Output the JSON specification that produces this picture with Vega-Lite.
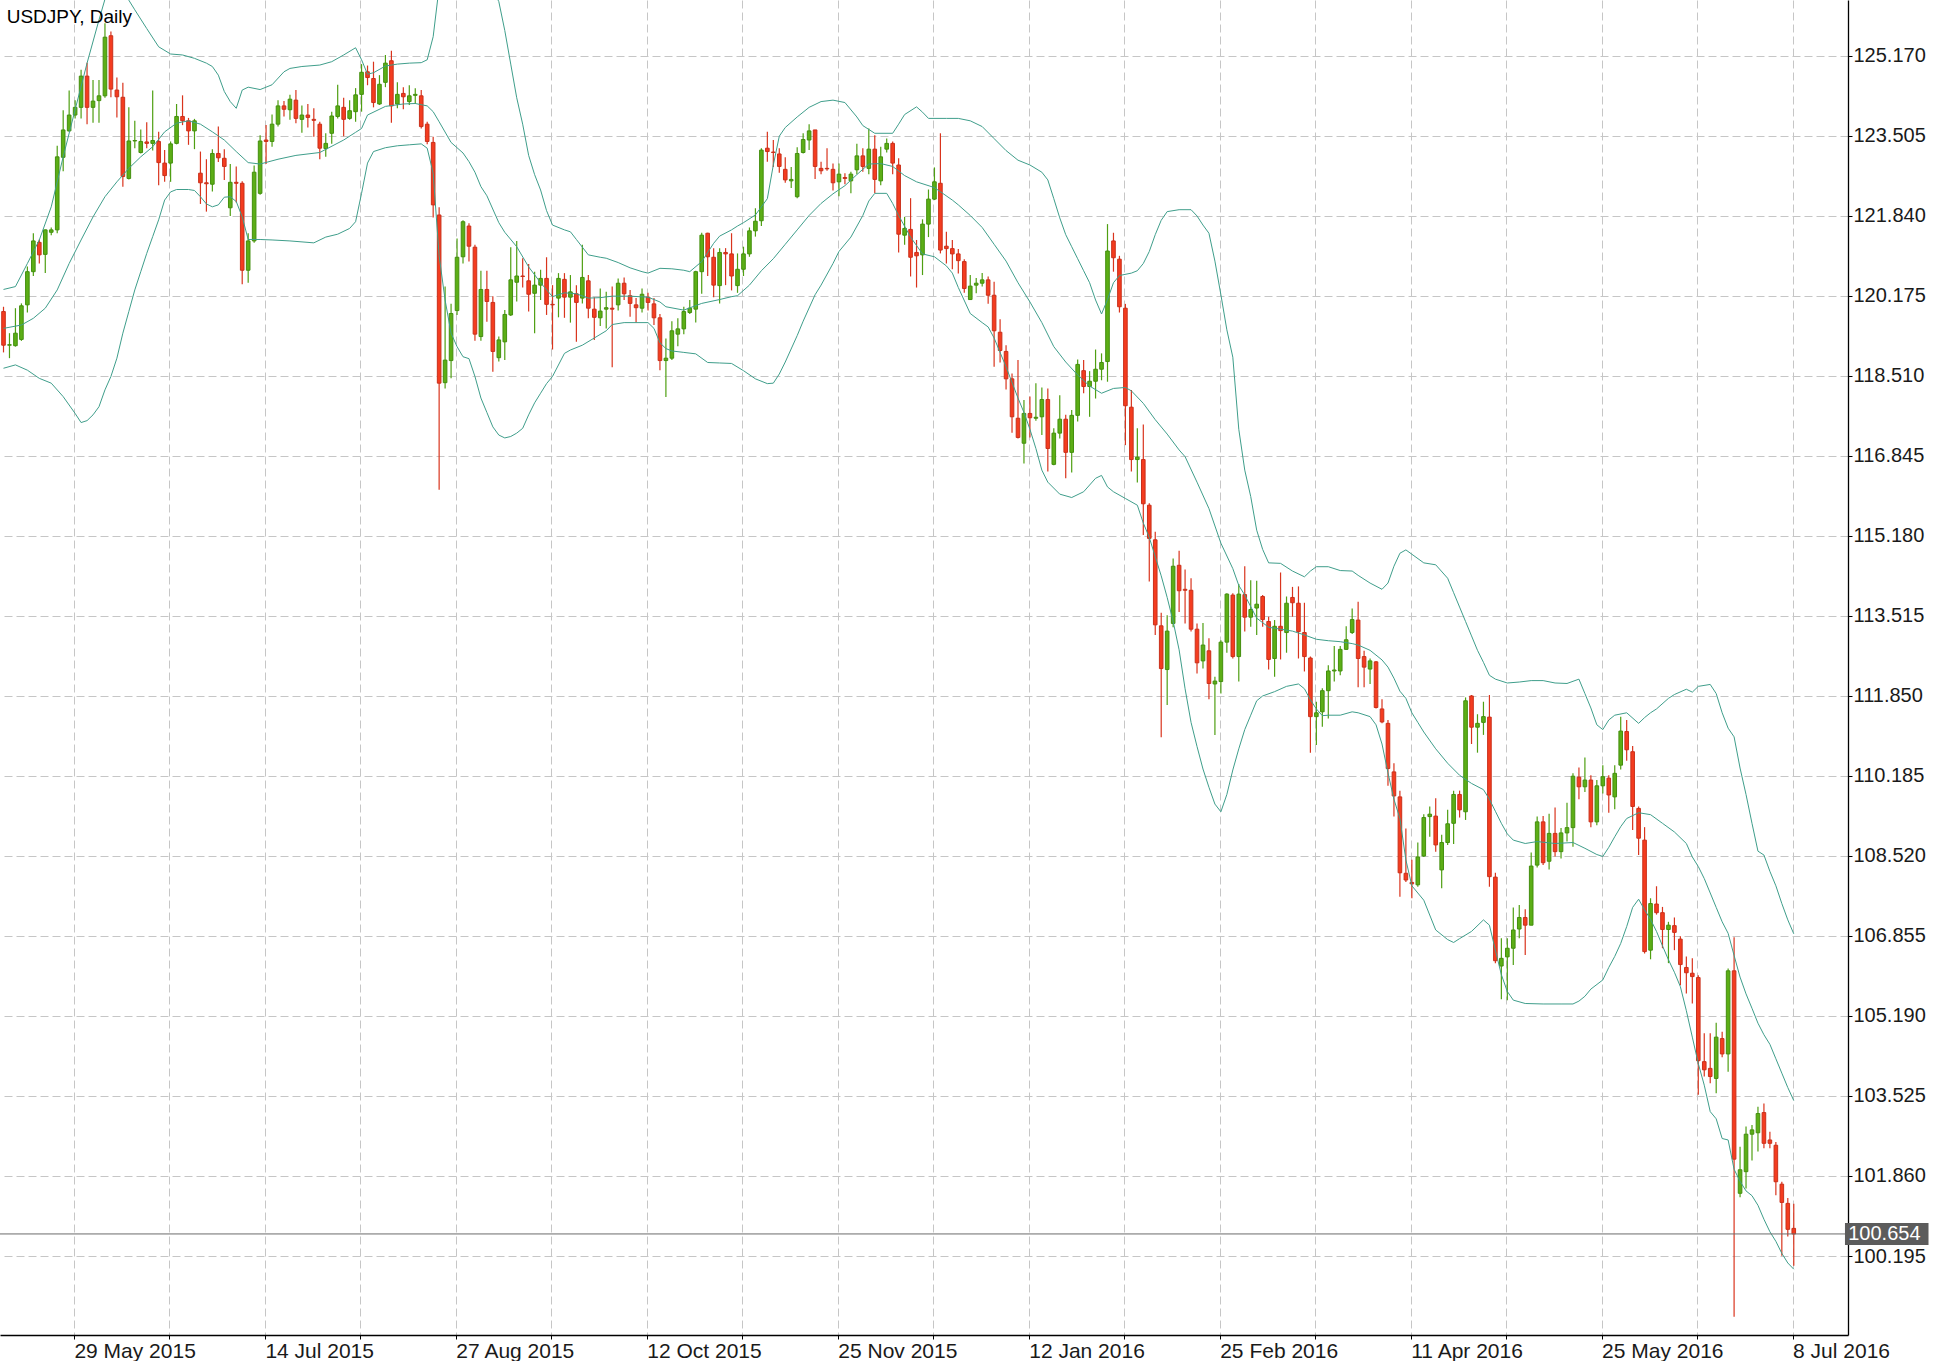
{
"$schema": "https://vega.github.io/schema/vega-lite/v6.json",
"width": 1848, "height": 1335, "padding": 0, "background": "white",
"config": {"view": {"stroke": null}, "font": "Liberation Sans"},
"datasets": {
"candles": [
{"i":0,"o":119.85,"h":119.95,"l":119.00,"c":119.15},{"i":1,"o":119.15,"h":119.40,"l":118.88,"c":119.16},{"i":2,"o":119.14,"h":119.92,"l":119.12,"c":119.40},{"i":3,"o":119.27,"h":120.02,"l":119.24,"c":119.97},{"i":4,"o":119.99,"h":120.79,"l":119.83,"c":120.68},{"i":5,"o":120.68,"h":121.48,"l":120.59,"c":121.32},{"i":6,"o":121.29,"h":121.35,"l":120.85,"c":121.03},{"i":7,"o":121.04,"h":121.56,"l":120.65,"c":121.55},{"i":8,"o":121.50,"h":121.60,"l":121.44,"c":121.55},{"i":9,"o":121.55,"h":123.30,"l":121.48,"c":123.07},
{"i":10,"o":123.06,"h":124.04,"l":122.77,"c":123.63},{"i":11,"o":123.61,"h":124.45,"l":123.59,"c":123.94},{"i":12,"o":123.94,"h":124.25,"l":123.87,"c":124.10},{"i":13,"o":124.10,"h":124.88,"l":123.87,"c":124.75},{"i":14,"o":124.75,"h":125.03,"l":123.75,"c":124.10},{"i":15,"o":124.10,"h":124.67,"l":123.78,"c":124.23},{"i":16,"o":124.24,"h":124.67,"l":123.78,"c":124.34},{"i":17,"o":124.34,"h":125.85,"l":124.30,"c":125.56},{"i":18,"o":125.59,"h":125.68,"l":124.31,"c":124.48},{"i":19,"o":124.46,"h":124.72,"l":123.89,"c":124.32},
{"i":20,"o":124.31,"h":124.61,"l":122.45,"c":122.66},{"i":21,"o":122.62,"h":124.10,"l":122.60,"c":123.40},{"i":22,"o":123.40,"h":123.82,"l":123.25,"c":123.41},{"i":23,"o":123.16,"h":123.64,"l":123.14,"c":123.39},{"i":24,"o":123.38,"h":123.79,"l":123.25,"c":123.35},{"i":25,"o":123.35,"h":124.45,"l":123.20,"c":123.41},{"i":26,"o":123.39,"h":123.59,"l":122.48,"c":122.95},{"i":27,"o":122.94,"h":123.21,"l":122.55,"c":122.68},{"i":28,"o":122.94,"h":123.39,"l":122.55,"c":123.34},{"i":29,"o":123.35,"h":124.17,"l":123.33,"c":123.91},
{"i":30,"o":123.91,"h":124.35,"l":123.73,"c":123.82},{"i":31,"o":123.82,"h":123.88,"l":123.32,"c":123.61},{"i":32,"o":123.61,"h":123.86,"l":123.23,"c":123.82},{"i":33,"o":122.73,"h":123.18,"l":122.09,"c":122.53},{"i":34,"o":122.53,"h":123.02,"l":121.93,"c":122.51},{"i":35,"o":122.50,"h":123.23,"l":122.35,"c":123.14},{"i":36,"o":123.14,"h":123.70,"l":122.96,"c":123.05},{"i":37,"o":123.04,"h":123.23,"l":122.59,"c":122.87},{"i":38,"o":122.01,"h":122.92,"l":121.84,"c":122.54},{"i":39,"o":122.54,"h":122.87,"l":122.12,"c":122.52},
{"i":40,"o":122.52,"h":122.56,"l":120.42,"c":120.71},{"i":41,"o":120.71,"h":121.48,"l":120.45,"c":121.32},{"i":42,"o":121.32,"h":122.89,"l":121.28,"c":122.75},{"i":43,"o":122.31,"h":123.52,"l":122.28,"c":123.40},{"i":44,"o":123.42,"h":123.73,"l":122.92,"c":123.39},{"i":45,"o":123.39,"h":123.95,"l":123.28,"c":123.75},{"i":46,"o":123.75,"h":124.25,"l":123.70,"c":124.13},{"i":47,"o":124.13,"h":124.23,"l":123.91,"c":124.06},{"i":48,"o":124.05,"h":124.36,"l":123.84,"c":124.27},{"i":49,"o":124.25,"h":124.46,"l":123.77,"c":123.87},
{"i":50,"o":123.85,"h":124.14,"l":123.57,"c":123.94},{"i":51,"o":123.94,"h":124.17,"l":123.68,"c":123.89},{"i":52,"o":123.85,"h":124.08,"l":123.49,"c":123.83},{"i":53,"o":123.75,"h":123.80,"l":123.02,"c":123.25},{"i":54,"o":123.24,"h":123.56,"l":123.07,"c":123.35},{"i":55,"o":123.56,"h":124.01,"l":123.34,"c":123.92},{"i":56,"o":123.91,"h":124.57,"l":123.87,"c":124.13},{"i":57,"o":124.10,"h":124.30,"l":123.50,"c":123.85},{"i":58,"o":123.87,"h":124.25,"l":123.84,"c":124.03},{"i":59,"o":124.01,"h":124.50,"l":123.80,"c":124.36},
{"i":60,"o":124.37,"h":125.00,"l":124.01,"c":124.83},{"i":61,"o":124.84,"h":124.97,"l":124.56,"c":124.72},{"i":62,"o":124.70,"h":125.05,"l":124.10,"c":124.20},{"i":63,"o":124.17,"h":124.77,"l":124.15,"c":124.58},{"i":64,"o":124.62,"h":125.19,"l":124.52,"c":125.02},{"i":65,"o":125.07,"h":125.28,"l":123.78,"c":124.13},{"i":66,"o":124.17,"h":124.62,"l":124.08,"c":124.37},{"i":67,"o":124.39,"h":124.52,"l":124.06,"c":124.32},{"i":68,"o":124.22,"h":124.56,"l":124.15,"c":124.34},{"i":69,"o":124.35,"h":124.50,"l":124.17,"c":124.37},
{"i":70,"o":124.34,"h":124.46,"l":123.66,"c":123.70},{"i":71,"o":123.75,"h":123.80,"l":123.33,"c":123.39},{"i":72,"o":123.37,"h":123.49,"l":121.81,"c":122.07},{"i":73,"o":121.86,"h":122.02,"l":116.14,"c":118.36},{"i":74,"o":118.37,"h":120.37,"l":118.25,"c":118.84},{"i":75,"o":118.83,"h":120.01,"l":118.46,"c":119.81},{"i":76,"o":119.87,"h":121.37,"l":119.78,"c":120.98},{"i":77,"o":120.99,"h":121.75,"l":120.85,"c":121.72},{"i":78,"o":121.63,"h":121.69,"l":120.89,"c":121.21},{"i":79,"o":121.19,"h":121.24,"l":119.24,"c":119.38},
{"i":80,"o":119.33,"h":120.70,"l":119.24,"c":120.31},{"i":81,"o":120.31,"h":120.70,"l":119.64,"c":120.06},{"i":82,"o":120.04,"h":120.17,"l":118.60,"c":119.02},{"i":83,"o":118.89,"h":119.33,"l":118.81,"c":119.26},{"i":84,"o":119.22,"h":119.88,"l":118.84,"c":119.79},{"i":85,"o":119.78,"h":121.19,"l":119.76,"c":120.51},{"i":86,"o":120.46,"h":121.32,"l":120.06,"c":120.59},{"i":87,"o":120.59,"h":120.96,"l":120.35,"c":120.58},{"i":88,"o":120.49,"h":120.84,"l":119.85,"c":120.21},{"i":89,"o":120.23,"h":120.68,"l":119.40,"c":120.40},
{"i":90,"o":120.40,"h":120.72,"l":120.09,"c":120.54},{"i":91,"o":120.54,"h":120.98,"l":119.78,"c":120.00},{"i":92,"o":120.00,"h":120.40,"l":119.06,"c":119.99},{"i":93,"o":120.13,"h":120.65,"l":119.73,"c":120.54},{"i":94,"o":120.52,"h":120.65,"l":119.72,"c":120.15},{"i":95,"o":120.15,"h":120.61,"l":119.62,"c":120.26},{"i":96,"o":120.22,"h":120.40,"l":119.22,"c":120.04},{"i":97,"o":120.13,"h":121.24,"l":120.02,"c":120.56},{"i":98,"o":120.49,"h":120.61,"l":119.71,"c":119.92},{"i":99,"o":119.90,"h":120.15,"l":119.26,"c":119.73},
{"i":100,"o":119.72,"h":120.33,"l":119.55,"c":119.86},{"i":101,"o":119.90,"h":120.26,"l":119.50,"c":119.93},{"i":102,"o":119.92,"h":120.37,"l":118.69,"c":119.90},{"i":103,"o":119.99,"h":120.54,"l":119.87,"c":120.44},{"i":104,"o":120.44,"h":120.56,"l":120.09,"c":120.22},{"i":105,"o":120.18,"h":120.30,"l":119.74,"c":120.02},{"i":106,"o":119.99,"h":120.13,"l":119.62,"c":119.93},{"i":107,"o":119.92,"h":120.33,"l":119.83,"c":120.21},{"i":108,"o":120.15,"h":120.24,"l":119.87,"c":120.04},{"i":109,"o":120.01,"h":120.13,"l":119.57,"c":119.72},
{"i":110,"o":119.72,"h":119.80,"l":118.63,"c":118.83},{"i":111,"o":118.83,"h":119.29,"l":118.07,"c":118.88},{"i":112,"o":118.88,"h":119.65,"l":118.84,"c":119.45},{"i":113,"o":119.38,"h":119.71,"l":119.13,"c":119.49},{"i":114,"o":119.49,"h":119.95,"l":119.38,"c":119.85},{"i":115,"o":119.83,"h":120.09,"l":119.80,"c":119.92},{"i":116,"o":119.90,"h":120.70,"l":119.62,"c":120.68},{"i":117,"o":120.68,"h":121.49,"l":120.22,"c":121.44},{"i":118,"o":121.48,"h":121.49,"l":120.59,"c":120.99},{"i":119,"o":120.98,"h":121.17,"l":120.15,"c":120.40},
{"i":120,"o":120.39,"h":121.17,"l":120.02,"c":121.08},{"i":121,"o":121.08,"h":121.17,"l":120.40,"c":121.05},{"i":122,"o":121.05,"h":121.48,"l":120.29,"c":120.59},{"i":123,"o":120.39,"h":121.06,"l":120.24,"c":120.73},{"i":124,"o":120.73,"h":121.20,"l":120.59,"c":121.05},{"i":125,"o":121.05,"h":121.60,"l":120.99,"c":121.53},{"i":126,"o":121.53,"h":122.00,"l":121.41,"c":121.73},{"i":127,"o":121.74,"h":123.25,"l":121.63,"c":123.21},{"i":128,"o":123.25,"h":123.59,"l":122.97,"c":123.18},{"i":129,"o":123.17,"h":123.42,"l":122.86,"c":123.16},
{"i":130,"o":123.13,"h":123.25,"l":122.74,"c":122.87},{"i":131,"o":122.81,"h":123.06,"l":122.53,"c":122.59},{"i":132,"o":122.57,"h":122.86,"l":122.42,"c":122.60},{"i":133,"o":122.24,"h":123.27,"l":122.21,"c":123.14},{"i":134,"o":123.16,"h":123.56,"l":123.14,"c":123.43},{"i":135,"o":123.42,"h":123.75,"l":123.21,"c":123.61},{"i":136,"o":123.63,"h":123.63,"l":122.61,"c":122.87},{"i":137,"o":122.83,"h":122.97,"l":122.71,"c":122.78},{"i":138,"o":122.83,"h":123.25,"l":122.78,"c":122.82},{"i":139,"o":122.81,"h":122.93,"l":122.37,"c":122.53},
{"i":140,"o":122.55,"h":122.93,"l":122.25,"c":122.71},{"i":141,"o":122.64,"h":122.73,"l":122.50,"c":122.62},{"i":142,"o":122.57,"h":122.76,"l":122.31,"c":122.71},{"i":143,"o":122.80,"h":123.34,"l":122.71,"c":123.09},{"i":144,"o":123.09,"h":123.25,"l":122.76,"c":122.87},{"i":145,"o":122.83,"h":123.66,"l":122.71,"c":123.23},{"i":146,"o":123.23,"h":123.52,"l":122.32,"c":122.60},{"i":147,"o":122.57,"h":123.28,"l":122.48,"c":123.07},{"i":148,"o":123.23,"h":123.45,"l":123.16,"c":123.35},{"i":149,"o":123.35,"h":123.39,"l":122.71,"c":122.94},
{"i":150,"o":122.90,"h":123.04,"l":121.08,"c":121.46},{"i":151,"o":121.44,"h":121.82,"l":121.24,"c":121.58},{"i":152,"o":121.56,"h":122.21,"l":120.58,"c":120.98},{"i":153,"o":121.08,"h":121.34,"l":120.35,"c":121.01},{"i":154,"o":121.03,"h":121.77,"l":120.61,"c":121.67},{"i":155,"o":121.67,"h":122.39,"l":121.40,"c":122.19},{"i":156,"o":122.19,"h":122.85,"l":122.17,"c":122.55},{"i":157,"o":122.52,"h":123.56,"l":121.06,"c":121.13},{"i":158,"o":121.21,"h":121.51,"l":120.85,"c":121.16},{"i":159,"o":121.16,"h":121.34,"l":120.73,"c":121.05},
{"i":160,"o":121.05,"h":121.15,"l":120.64,"c":120.91},{"i":161,"o":120.89,"h":120.94,"l":120.24,"c":120.33},{"i":162,"o":120.10,"h":120.61,"l":120.09,"c":120.38},{"i":163,"o":120.40,"h":120.55,"l":120.23,"c":120.44},{"i":164,"o":120.44,"h":120.65,"l":120.37,"c":120.51},{"i":165,"o":120.51,"h":120.58,"l":120.01,"c":120.19},{"i":166,"o":120.19,"h":120.47,"l":118.70,"c":119.45},{"i":167,"o":119.42,"h":119.69,"l":118.79,"c":119.04},{"i":168,"o":119.02,"h":119.15,"l":118.23,"c":118.45},{"i":169,"o":118.45,"h":118.56,"l":117.33,"c":117.66},
{"i":170,"o":117.63,"h":118.84,"l":117.21,"c":117.23},{"i":171,"o":117.11,"h":118.01,"l":116.69,"c":117.73},{"i":172,"o":117.73,"h":118.08,"l":117.23,"c":117.64},{"i":173,"o":117.63,"h":118.36,"l":117.58,"c":117.65},{"i":174,"o":117.66,"h":118.27,"l":117.28,"c":118.02},{"i":175,"o":118.02,"h":118.25,"l":116.52,"c":117.00},{"i":176,"o":116.67,"h":117.42,"l":116.65,"c":117.32},{"i":177,"o":117.32,"h":118.11,"l":117.21,"c":117.61},{"i":178,"o":117.61,"h":117.70,"l":116.38,"c":116.92},{"i":179,"o":116.92,"h":117.80,"l":116.50,"c":117.69},
{"i":180,"o":117.69,"h":118.85,"l":117.56,"c":118.75},{"i":181,"o":118.62,"h":118.84,"l":118.15,"c":118.29},{"i":182,"o":118.29,"h":118.61,"l":117.66,"c":118.40},{"i":183,"o":118.40,"h":119.06,"l":118.04,"c":118.65},{"i":184,"o":118.65,"h":118.98,"l":118.42,"c":118.79},{"i":185,"o":118.81,"h":121.67,"l":118.39,"c":121.11},{"i":186,"o":121.32,"h":121.49,"l":120.68,"c":120.97},{"i":187,"o":120.94,"h":121.01,"l":119.83,"c":119.95},{"i":188,"o":119.92,"h":120.01,"l":117.07,"c":117.89},{"i":189,"o":117.86,"h":118.22,"l":116.52,"c":116.77},
{"i":190,"o":116.77,"h":117.42,"l":116.29,"c":116.82},{"i":191,"o":116.77,"h":117.50,"l":115.20,"c":115.85},{"i":192,"o":115.82,"h":115.86,"l":114.23,"c":115.13},{"i":193,"o":115.10,"h":115.27,"l":113.12,"c":113.33},{"i":194,"o":113.31,"h":113.58,"l":110.99,"c":112.42},{"i":195,"o":112.40,"h":113.53,"l":111.66,"c":113.20},{"i":196,"o":113.36,"h":114.71,"l":113.28,"c":114.55},{"i":197,"o":114.57,"h":114.87,"l":113.60,"c":114.04},{"i":198,"o":114.07,"h":114.48,"l":113.36,"c":114.05},{"i":199,"o":114.05,"h":114.30,"l":113.19,"c":113.24},
{"i":200,"o":113.24,"h":113.36,"l":112.32,"c":112.54},{"i":201,"o":112.58,"h":113.37,"l":112.42,"c":112.91},{"i":202,"o":112.79,"h":113.05,"l":111.78,"c":112.11},{"i":203,"o":112.10,"h":112.25,"l":111.04,"c":112.16},{"i":204,"o":112.15,"h":113.01,"l":111.90,"c":112.97},{"i":205,"o":112.97,"h":113.99,"l":112.75,"c":113.97},{"i":206,"o":113.95,"h":113.99,"l":112.63,"c":112.67},{"i":207,"o":112.67,"h":114.18,"l":112.15,"c":113.97},{"i":208,"o":113.96,"h":114.55,"l":113.19,"c":113.49},{"i":209,"o":113.49,"h":114.26,"l":113.29,"c":113.65},
{"i":210,"o":113.68,"h":114.25,"l":113.12,"c":113.76},{"i":211,"o":113.92,"h":113.95,"l":113.29,"c":113.44},{"i":212,"o":113.40,"h":113.50,"l":112.40,"c":112.61},{"i":213,"o":112.63,"h":113.43,"l":112.25,"c":113.30},{"i":214,"o":113.30,"h":114.42,"l":112.61,"c":113.21},{"i":215,"o":113.17,"h":113.92,"l":112.75,"c":113.78},{"i":216,"o":113.90,"h":114.12,"l":113.50,"c":113.79},{"i":217,"o":113.78,"h":114.13,"l":112.63,"c":113.19},{"i":218,"o":113.17,"h":113.79,"l":112.36,"c":112.67},{"i":219,"o":112.64,"h":112.67,"l":110.67,"c":111.42},
{"i":220,"o":111.42,"h":111.73,"l":110.83,"c":111.50},{"i":221,"o":111.52,"h":112.01,"l":111.21,"c":111.96},{"i":222,"o":111.96,"h":112.49,"l":111.38,"c":112.37},{"i":223,"o":112.37,"h":112.89,"l":112.15,"c":112.39},{"i":224,"o":112.37,"h":112.89,"l":112.28,"c":112.82},{"i":225,"o":112.82,"h":113.30,"l":112.81,"c":113.02},{"i":226,"o":113.17,"h":113.67,"l":113.14,"c":113.44},{"i":227,"o":113.43,"h":113.81,"l":112.03,"c":112.63},{"i":228,"o":112.67,"h":112.79,"l":112.03,"c":112.45},{"i":229,"o":112.41,"h":112.63,"l":112.10,"c":112.58},
{"i":230,"o":112.56,"h":112.58,"l":111.59,"c":111.61},{"i":231,"o":111.58,"h":111.78,"l":111.28,"c":111.31},{"i":232,"o":111.28,"h":111.35,"l":109.98,"c":110.34},{"i":233,"o":110.27,"h":110.45,"l":109.34,"c":109.77},{"i":234,"o":109.75,"h":109.88,"l":107.67,"c":108.17},{"i":235,"o":108.16,"h":109.09,"l":107.98,"c":108.02},{"i":236,"o":107.97,"h":108.44,"l":107.64,"c":107.94},{"i":237,"o":107.92,"h":108.80,"l":107.88,"c":108.50},{"i":238,"o":108.52,"h":109.39,"l":108.50,"c":109.32},{"i":239,"o":109.34,"h":109.55,"l":108.92,"c":109.39},
{"i":240,"o":109.35,"h":109.72,"l":108.61,"c":108.75},{"i":241,"o":108.23,"h":108.96,"l":107.85,"c":108.80},{"i":242,"o":108.80,"h":109.48,"l":108.75,"c":109.19},{"i":243,"o":109.20,"h":109.88,"l":108.77,"c":109.80},{"i":244,"o":109.80,"h":109.88,"l":109.32,"c":109.48},{"i":245,"o":109.44,"h":111.82,"l":109.27,"c":111.75},{"i":246,"o":111.85,"h":111.87,"l":110.85,"c":111.20},{"i":247,"o":111.20,"h":111.47,"l":110.67,"c":111.28},{"i":248,"o":111.30,"h":111.73,"l":111.04,"c":111.42},{"i":249,"o":111.41,"h":111.87,"l":107.88,"c":108.09},
{"i":250,"o":108.08,"h":108.17,"l":106.29,"c":106.34},{"i":251,"o":106.23,"h":106.81,"l":105.54,"c":106.39},{"i":252,"o":106.42,"h":106.81,"l":105.52,"c":106.60},{"i":253,"o":106.60,"h":107.45,"l":106.25,"c":106.98},{"i":254,"o":107.00,"h":107.50,"l":106.81,"c":107.24},{"i":255,"o":107.24,"h":107.41,"l":106.46,"c":107.08},{"i":256,"o":107.08,"h":108.59,"l":107.08,"c":108.31},{"i":257,"o":108.33,"h":109.34,"l":108.28,"c":109.23},{"i":258,"o":109.23,"h":109.35,"l":108.33,"c":108.38},{"i":259,"o":108.41,"h":109.40,"l":108.24,"c":108.99},
{"i":260,"o":108.99,"h":109.53,"l":108.51,"c":108.61},{"i":261,"o":108.61,"h":109.10,"l":108.47,"c":109.00},{"i":262,"o":109.00,"h":109.63,"l":108.82,"c":109.11},{"i":263,"o":109.11,"h":110.24,"l":108.71,"c":110.18},{"i":264,"o":110.16,"h":110.36,"l":109.70,"c":109.96},{"i":265,"o":109.96,"h":110.57,"l":109.85,"c":110.10},{"i":266,"o":110.10,"h":110.20,"l":109.12,"c":109.23},{"i":267,"o":109.23,"h":110.10,"l":109.16,"c":109.98},{"i":268,"o":109.98,"h":110.41,"l":109.82,"c":110.17},{"i":269,"o":110.14,"h":110.20,"l":109.42,"c":109.79},
{"i":270,"o":109.75,"h":110.41,"l":109.49,"c":110.24},{"i":271,"o":110.41,"h":111.42,"l":110.32,"c":111.12},{"i":272,"o":111.11,"h":111.35,"l":110.50,"c":110.73},{"i":273,"o":110.69,"h":110.81,"l":109.06,"c":109.55},{"i":274,"o":109.51,"h":109.55,"l":108.54,"c":108.89},{"i":275,"o":108.85,"h":109.12,"l":106.49,"c":106.53},{"i":276,"o":106.56,"h":107.64,"l":106.37,"c":107.53},{"i":277,"o":107.52,"h":107.89,"l":107.30,"c":107.34},{"i":278,"o":107.34,"h":107.46,"l":106.60,"c":106.99},{"i":279,"o":106.99,"h":107.15,"l":106.29,"c":107.08},
{"i":280,"o":107.07,"h":107.24,"l":106.56,"c":106.93},{"i":281,"o":106.79,"h":106.85,"l":105.83,"c":106.26},{"i":282,"o":106.20,"h":106.43,"l":105.66,"c":106.09},{"i":283,"o":106.08,"h":106.39,"l":105.45,"c":106.01},{"i":284,"o":105.99,"h":106.04,"l":103.55,"c":104.26},{"i":285,"o":104.24,"h":104.83,"l":103.93,"c":104.07},{"i":286,"o":104.10,"h":104.83,"l":103.79,"c":103.93},{"i":287,"o":103.89,"h":105.05,"l":103.58,"c":104.75},{"i":288,"o":104.72,"h":104.86,"l":104.33,"c":104.40},{"i":289,"o":104.40,"h":106.18,"l":104.03,"c":106.13},
{"i":290,"o":106.13,"h":106.83,"l":98.93,"c":102.21},{"i":291,"o":101.50,"h":102.47,"l":101.42,"c":101.99},{"i":292,"o":101.95,"h":102.89,"l":101.60,"c":102.73},{"i":293,"o":102.73,"h":102.92,"l":102.18,"c":102.82},{"i":294,"o":102.76,"h":103.30,"l":102.37,"c":103.16},{"i":295,"o":103.18,"h":103.37,"l":102.44,"c":102.54},{"i":296,"o":102.61,"h":102.78,"l":102.44,"c":102.54},{"i":297,"o":102.50,"h":102.57,"l":101.46,"c":101.74},{"i":298,"o":101.69,"h":101.74,"l":100.20,"c":101.31},{"i":299,"o":101.29,"h":101.40,"l":100.60,"c":100.75},
{"i":300,"o":100.77,"h":101.28,"l":99.99,"c":100.654}
],
"upper": [
{"i":0,"v":120.31},{"i":2,"v":120.37},{"i":4,"v":120.85},{"i":6,"v":121.34},{"i":8,"v":122.03},{"i":10,"v":123.07},{"i":12,"v":124.05},{"i":14,"v":125.02},{"i":16,"v":125.92},{"i":17,"v":126.35},{"i":18,"v":126.6},{"i":19,"v":126.7},{"i":20,"v":126.55},{"i":21,"v":126.33},{"i":22,"v":126.13},{"i":24,"v":125.74},{"i":26,"v":125.36},{"i":28,"v":125.21},{"i":30,"v":125.19},{"i":32,"v":125.12},{"i":34,"v":125.02},{"i":35,"v":124.95},{"i":36,"v":124.77},{"i":37,"v":124.43},{"i":38,"v":124.22},{"i":39,"v":124.08},{"i":40,"v":124.46},{"i":41,"v":124.52},{"i":43,"v":124.47},{"i":45,"v":124.57},{"i":47,"v":124.84},{"i":48,"v":124.91},{"i":50,"v":124.95},{"i":53,"v":124.98},{"i":55,"v":125.05},{"i":57,"v":125.19},{"i":59,"v":125.34},{"i":60,"v":125.09},{"i":61,"v":124.79},{"i":62,"v":124.82},{"i":64,"v":124.96},{"i":66,"v":125.0},{"i":68,"v":125.02},{"i":70,"v":125.03},{"i":71,"v":125.09},{"i":72,"v":125.57},{"i":73,"v":126.6},{"i":74,"v":126.9},{"i":76,"v":127.1},{"i":78,"v":127.07},{"i":80,"v":126.9},{"i":82,"v":126.55},{"i":83,"v":126.3},{"i":84,"v":125.7},{"i":85,"v":125.0},{"i":86,"v":124.3},{"i":87,"v":123.75},{"i":88,"v":123.1},{"i":89,"v":122.7},{"i":90,"v":122.38},{"i":91,"v":121.95},{"i":92,"v":121.65},{"i":94,"v":121.55},{"i":95,"v":121.51},{"i":96,"v":121.35},{"i":98,"v":121.03},{"i":100,"v":120.98},{"i":101,"v":120.96},{"i":103,"v":120.87},{"i":105,"v":120.76},{"i":107,"v":120.68},{"i":108,"v":120.65},{"i":110,"v":120.75},{"i":112,"v":120.74},{"i":114,"v":120.71},{"i":115,"v":120.68},{"i":117,"v":120.89},{"i":119,"v":121.27},{"i":120,"v":121.42},{"i":122,"v":121.55},{"i":123,"v":121.63},{"i":124,"v":121.7},{"i":126,"v":121.86},{"i":128,"v":122.2},{"i":129,"v":122.9},{"i":130,"v":123.5},{"i":131,"v":123.68},{"i":133,"v":123.9},{"i":135,"v":124.1},{"i":137,"v":124.22},{"i":139,"v":124.25},{"i":141,"v":124.2},{"i":143,"v":123.9},{"i":144,"v":123.72},{"i":146,"v":123.56},{"i":149,"v":123.56},{"i":150,"v":123.75},{"i":151,"v":123.95},{"i":153,"v":124.11},{"i":154,"v":124.0},{"i":155,"v":123.87},{"i":158,"v":123.87},{"i":160,"v":123.87},{"i":162,"v":123.82},{"i":164,"v":123.7},{"i":166,"v":123.45},{"i":168,"v":123.2},{"i":170,"v":123.0},{"i":172,"v":122.9},{"i":174,"v":122.75},{"i":175,"v":122.59},{"i":176,"v":122.2},{"i":177,"v":121.8},{"i":178,"v":121.45},{"i":179,"v":121.2},{"i":180,"v":120.95},{"i":181,"v":120.7},{"i":182,"v":120.45},{"i":183,"v":120.09},{"i":184,"v":119.8},{"i":185,"v":120.1},{"i":186,"v":120.45},{"i":187,"v":120.6},{"i":189,"v":120.65},{"i":190,"v":120.7},{"i":191,"v":120.85},{"i":192,"v":121.1},{"i":193,"v":121.45},{"i":194,"v":121.75},{"i":195,"v":121.93},{"i":197,"v":121.97},{"i":199,"v":121.97},{"i":200,"v":121.84},{"i":201,"v":121.65},{"i":202,"v":121.48},{"i":203,"v":120.9},{"i":204,"v":120.2},{"i":205,"v":119.47},{"i":206,"v":118.9},{"i":207,"v":117.4},{"i":208,"v":116.55},{"i":209,"v":116.0},{"i":210,"v":115.3},{"i":211,"v":114.9},{"i":212,"v":114.62},{"i":214,"v":114.61},{"i":216,"v":114.45},{"i":218,"v":114.33},{"i":219,"v":114.45},{"i":220,"v":114.54},{"i":222,"v":114.54},{"i":224,"v":114.46},{"i":226,"v":114.45},{"i":227,"v":114.36},{"i":229,"v":114.2},{"i":231,"v":114.07},{"i":232,"v":114.2},{"i":233,"v":114.55},{"i":234,"v":114.82},{"i":235,"v":114.89},{"i":236,"v":114.8},{"i":238,"v":114.62},{"i":240,"v":114.58},{"i":242,"v":114.3},{"i":243,"v":114.0},{"i":244,"v":113.7},{"i":245,"v":113.4},{"i":246,"v":113.1},{"i":247,"v":112.8},{"i":248,"v":112.55},{"i":249,"v":112.28},{"i":250,"v":112.2},{"i":252,"v":112.12},{"i":254,"v":112.14},{"i":256,"v":112.17},{"i":258,"v":112.17},{"i":260,"v":112.12},{"i":262,"v":112.11},{"i":264,"v":112.2},{"i":265,"v":111.9},{"i":266,"v":111.6},{"i":267,"v":111.25},{"i":268,"v":111.15},{"i":269,"v":111.35},{"i":270,"v":111.45},{"i":272,"v":111.5},{"i":274,"v":111.28},{"i":275,"v":111.4},{"i":276,"v":111.5},{"i":277,"v":111.58},{"i":279,"v":111.8},{"i":280,"v":111.88},{"i":282,"v":111.99},{"i":283,"v":111.93},{"i":284,"v":112.05},{"i":286,"v":112.09},{"i":287,"v":111.9},{"i":288,"v":111.5},{"i":289,"v":111.18},{"i":290,"v":111.0},{"i":291,"v":110.35},{"i":292,"v":109.8},{"i":293,"v":109.2},{"i":294,"v":108.62},{"i":295,"v":108.54},{"i":296,"v":108.2},{"i":297,"v":107.9},{"i":298,"v":107.53},{"i":299,"v":107.19},{"i":300,"v":106.9}
],
"middle": [
{"i":0,"v":119.5},{"i":3,"v":119.57},{"i":5,"v":119.71},{"i":7,"v":119.92},{"i":9,"v":120.3},{"i":11,"v":120.85},{"i":13,"v":121.34},{"i":15,"v":121.82},{"i":17,"v":122.24},{"i":19,"v":122.55},{"i":21,"v":122.83},{"i":23,"v":123.07},{"i":25,"v":123.28},{"i":27,"v":123.59},{"i":29,"v":123.77},{"i":31,"v":123.82},{"i":33,"v":123.75},{"i":35,"v":123.59},{"i":37,"v":123.42},{"i":39,"v":123.18},{"i":41,"v":122.95},{"i":43,"v":122.92},{"i":46,"v":123.02},{"i":49,"v":123.1},{"i":53,"v":123.16},{"i":57,"v":123.42},{"i":59,"v":123.58},{"i":60,"v":123.66},{"i":61,"v":123.94},{"i":64,"v":124.12},{"i":67,"v":124.17},{"i":69,"v":124.18},{"i":71,"v":124.13},{"i":72,"v":124.01},{"i":73,"v":123.8},{"i":75,"v":123.37},{"i":77,"v":123.15},{"i":78,"v":122.97},{"i":79,"v":122.75},{"i":80,"v":122.45},{"i":81,"v":122.26},{"i":83,"v":121.7},{"i":84,"v":121.5},{"i":86,"v":121.2},{"i":88,"v":120.78},{"i":90,"v":120.45},{"i":92,"v":120.16},{"i":94,"v":120.24},{"i":96,"v":120.22},{"i":98,"v":120.13},{"i":100,"v":120.14},{"i":102,"v":120.17},{"i":105,"v":120.17},{"i":108,"v":120.15},{"i":110,"v":120.05},{"i":111,"v":119.95},{"i":114,"v":119.88},{"i":117,"v":120.02},{"i":120,"v":120.1},{"i":122,"v":120.16},{"i":123,"v":120.18},{"i":125,"v":120.4},{"i":127,"v":120.7},{"i":129,"v":120.95},{"i":131,"v":121.25},{"i":133,"v":121.55},{"i":135,"v":121.85},{"i":137,"v":122.1},{"i":139,"v":122.3},{"i":141,"v":122.47},{"i":143,"v":122.7},{"i":145,"v":122.92},{"i":147,"v":122.93},{"i":149,"v":122.87},{"i":151,"v":122.68},{"i":153,"v":122.55},{"i":156,"v":122.43},{"i":159,"v":122.17},{"i":160,"v":122.07},{"i":162,"v":121.85},{"i":164,"v":121.6},{"i":166,"v":121.25},{"i":168,"v":120.9},{"i":170,"v":120.45},{"i":172,"v":120.05},{"i":174,"v":119.62},{"i":176,"v":119.12},{"i":178,"v":118.8},{"i":180,"v":118.53},{"i":182,"v":118.3},{"i":184,"v":118.15},{"i":186,"v":118.25},{"i":188,"v":118.27},{"i":189,"v":118.2},{"i":191,"v":117.94},{"i":193,"v":117.6},{"i":195,"v":117.3},{"i":197,"v":116.97},{"i":198,"v":116.83},{"i":200,"v":116.3},{"i":202,"v":115.75},{"i":204,"v":115.03},{"i":206,"v":114.5},{"i":207,"v":114.15},{"i":208,"v":113.95},{"i":210,"v":113.47},{"i":212,"v":113.28},{"i":214,"v":113.24},{"i":216,"v":113.2},{"i":218,"v":113.12},{"i":220,"v":113.03},{"i":222,"v":113.0},{"i":224,"v":112.98},{"i":226,"v":112.94},{"i":227,"v":112.91},{"i":229,"v":112.8},{"i":231,"v":112.6},{"i":232,"v":112.45},{"i":233,"v":112.22},{"i":234,"v":111.95},{"i":235,"v":111.8},{"i":236,"v":111.5},{"i":237,"v":111.3},{"i":238,"v":111.1},{"i":240,"v":110.75},{"i":242,"v":110.45},{"i":244,"v":110.2},{"i":246,"v":110.03},{"i":248,"v":109.9},{"i":249,"v":109.7},{"i":250,"v":109.45},{"i":251,"v":109.2},{"i":252,"v":108.98},{"i":253,"v":108.85},{"i":255,"v":108.78},{"i":257,"v":108.82},{"i":260,"v":108.78},{"i":263,"v":108.8},{"i":265,"v":108.68},{"i":267,"v":108.55},{"i":268,"v":108.51},{"i":269,"v":108.7},{"i":270,"v":108.92},{"i":271,"v":109.13},{"i":272,"v":109.3},{"i":274,"v":109.42},{"i":276,"v":109.38},{"i":278,"v":109.2},{"i":280,"v":109.02},{"i":282,"v":108.78},{"i":283,"v":108.5},{"i":284,"v":108.3},{"i":285,"v":108.05},{"i":286,"v":107.75},{"i":287,"v":107.45},{"i":288,"v":107.15},{"i":289,"v":106.91},{"i":290,"v":106.45},{"i":291,"v":106.0},{"i":292,"v":105.65},{"i":293,"v":105.35},{"i":294,"v":105.04},{"i":295,"v":104.8},{"i":296,"v":104.6},{"i":297,"v":104.3},{"i":298,"v":104.0},{"i":299,"v":103.7},{"i":300,"v":103.43}
],
"lower": [
{"i":0,"v":118.67},{"i":2,"v":118.74},{"i":4,"v":118.63},{"i":6,"v":118.46},{"i":8,"v":118.36},{"i":10,"v":118.08},{"i":12,"v":117.73},{"i":13,"v":117.54},{"i":14,"v":117.58},{"i":15,"v":117.7},{"i":16,"v":117.87},{"i":17,"v":118.22},{"i":18,"v":118.5},{"i":19,"v":118.88},{"i":20,"v":119.4},{"i":21,"v":119.85},{"i":22,"v":120.3},{"i":23,"v":120.68},{"i":24,"v":121.06},{"i":25,"v":121.41},{"i":26,"v":121.76},{"i":27,"v":122.17},{"i":28,"v":122.34},{"i":29,"v":122.39},{"i":31,"v":122.39},{"i":32,"v":122.37},{"i":33,"v":122.24},{"i":34,"v":122.09},{"i":35,"v":122.03},{"i":36,"v":122.07},{"i":37,"v":122.23},{"i":38,"v":122.24},{"i":39,"v":122.14},{"i":40,"v":121.82},{"i":41,"v":121.35},{"i":43,"v":121.35},{"i":45,"v":121.34},{"i":48,"v":121.32},{"i":52,"v":121.28},{"i":54,"v":121.4},{"i":56,"v":121.46},{"i":58,"v":121.58},{"i":59,"v":121.72},{"i":60,"v":122.31},{"i":61,"v":122.94},{"i":62,"v":123.18},{"i":64,"v":123.26},{"i":66,"v":123.3},{"i":68,"v":123.32},{"i":70,"v":123.34},{"i":71,"v":123.25},{"i":72,"v":122.73},{"i":73,"v":121.01},{"i":74,"v":120.09},{"i":75,"v":119.4},{"i":76,"v":119.12},{"i":77,"v":118.91},{"i":78,"v":118.87},{"i":79,"v":118.5},{"i":80,"v":118.05},{"i":81,"v":117.75},{"i":82,"v":117.45},{"i":83,"v":117.28},{"i":84,"v":117.22},{"i":85,"v":117.25},{"i":86,"v":117.32},{"i":87,"v":117.42},{"i":88,"v":117.7},{"i":89,"v":117.95},{"i":90,"v":118.15},{"i":91,"v":118.35},{"i":92,"v":118.5},{"i":94,"v":118.98},{"i":95,"v":119.05},{"i":97,"v":119.15},{"i":99,"v":119.3},{"i":101,"v":119.45},{"i":102,"v":119.58},{"i":104,"v":119.62},{"i":108,"v":119.62},{"i":109,"v":119.5},{"i":110,"v":119.2},{"i":111,"v":119.08},{"i":112,"v":119.03},{"i":114,"v":119.0},{"i":116,"v":118.97},{"i":118,"v":118.79},{"i":120,"v":118.78},{"i":122,"v":118.77},{"i":124,"v":118.62},{"i":126,"v":118.45},{"i":128,"v":118.35},{"i":129,"v":118.36},{"i":130,"v":118.55},{"i":131,"v":118.8},{"i":133,"v":119.35},{"i":134,"v":119.65},{"i":136,"v":120.2},{"i":137,"v":120.4},{"i":139,"v":120.85},{"i":140,"v":121.1},{"i":142,"v":121.4},{"i":144,"v":121.85},{"i":145,"v":122.15},{"i":146,"v":122.31},{"i":148,"v":122.31},{"i":149,"v":122.1},{"i":150,"v":121.85},{"i":152,"v":121.4},{"i":154,"v":121.05},{"i":156,"v":120.99},{"i":158,"v":120.8},{"i":159,"v":120.65},{"i":160,"v":120.35},{"i":162,"v":119.81},{"i":164,"v":119.62},{"i":165,"v":119.53},{"i":166,"v":119.3},{"i":168,"v":118.7},{"i":170,"v":118.05},{"i":171,"v":117.75},{"i":172,"v":117.4},{"i":173,"v":117.0},{"i":174,"v":116.55},{"i":175,"v":116.3},{"i":177,"v":116.05},{"i":179,"v":115.98},{"i":181,"v":116.1},{"i":183,"v":116.38},{"i":184,"v":116.44},{"i":185,"v":116.2},{"i":186,"v":116.1},{"i":188,"v":115.96},{"i":190,"v":115.82},{"i":191,"v":115.45},{"i":192,"v":115.15},{"i":193,"v":114.75},{"i":194,"v":114.35},{"i":195,"v":113.9},{"i":196,"v":113.4},{"i":197,"v":112.81},{"i":198,"v":112.0},{"i":199,"v":111.3},{"i":200,"v":110.8},{"i":201,"v":110.33},{"i":202,"v":109.95},{"i":203,"v":109.6},{"i":204,"v":109.44},{"i":205,"v":109.8},{"i":206,"v":110.31},{"i":207,"v":110.75},{"i":208,"v":111.15},{"i":209,"v":111.45},{"i":210,"v":111.75},{"i":211,"v":111.85},{"i":213,"v":111.94},{"i":215,"v":112.05},{"i":217,"v":112.1},{"i":218,"v":112.0},{"i":219,"v":111.77},{"i":220,"v":111.58},{"i":221,"v":111.44},{"i":222,"v":111.45},{"i":224,"v":111.45},{"i":226,"v":111.52},{"i":227,"v":111.5},{"i":229,"v":111.42},{"i":230,"v":111.25},{"i":231,"v":110.85},{"i":232,"v":110.25},{"i":233,"v":109.7},{"i":234,"v":109.3},{"i":235,"v":108.44},{"i":236,"v":107.9},{"i":238,"v":107.6},{"i":240,"v":106.98},{"i":242,"v":106.78},{"i":243,"v":106.72},{"i":244,"v":106.8},{"i":246,"v":106.95},{"i":248,"v":107.19},{"i":249,"v":107.08},{"i":250,"v":106.56},{"i":251,"v":106.05},{"i":252,"v":105.7},{"i":253,"v":105.52},{"i":255,"v":105.45},{"i":258,"v":105.44},{"i":261,"v":105.44},{"i":263,"v":105.44},{"i":264,"v":105.5},{"i":265,"v":105.6},{"i":266,"v":105.75},{"i":268,"v":105.94},{"i":269,"v":106.2},{"i":270,"v":106.43},{"i":271,"v":106.7},{"i":272,"v":107.05},{"i":273,"v":107.45},{"i":274,"v":107.62},{"i":275,"v":107.4},{"i":276,"v":107.2},{"i":277,"v":106.95},{"i":278,"v":106.65},{"i":279,"v":106.36},{"i":280,"v":106.1},{"i":281,"v":105.8},{"i":282,"v":105.3},{"i":283,"v":104.75},{"i":284,"v":104.2},{"i":285,"v":103.75},{"i":286,"v":103.2},{"i":287,"v":103.05},{"i":288,"v":102.64},{"i":289,"v":102.61},{"i":290,"v":102.0},{"i":291,"v":101.75},{"i":292,"v":101.55},{"i":293,"v":101.45},{"i":294,"v":101.25},{"i":295,"v":100.96},{"i":296,"v":100.7},{"i":297,"v":100.5},{"i":298,"v":100.25},{"i":299,"v":100.05},{"i":300,"v":99.92}
],
"last": [{"p":100.654,"label":"100.654"}],
"title": [{"t":"USDJPY, Daily"}]
},
"layer": [
{
"data": {"name":"candles"},
"mark": {"type":"rule","clip":true,"strokeWidth":1.2},
"encoding": {
"x": {"field":"i","type":"quantitative","scale":{"domain":[0.25,308.25],"nice":false,"zero":false},
"axis": {"title":null,"orient":"bottom","values":[11.8,27.8,43.8,59.8,75.8,91.8,107.8,123.8,139.8,155.8,171.8,187.8,203.8,219.8,235.8,251.8,267.8,283.8,299.8],
"grid":true,"gridDash":[8,4],"gridColor":"#c6c6c6","gridWidth":1,"domainColor":"#000000","domainWidth":1.3,"ticks":true,"tickSize":4,"tickColor":"#000000",
"labelAlign":"left","labelBaseline":"top","labelPadding":1,"labelFontSize":21,"labelFont":"Liberation Sans","labelColor":"#1a1a1a","labelOverlap":false,"labelFlush":false,
"labelExpr":"round(datum.value)==12?'29 May 2015':round(datum.value)==44?'14 Jul 2015':round(datum.value)==76?'27 Aug 2015':round(datum.value)==108?'12 Oct 2015':round(datum.value)==140?'25 Nov 2015':round(datum.value)==172?'12 Jan 2016':round(datum.value)==204?'25 Feb 2016':round(datum.value)==236?'11 Apr 2016':round(datum.value)==268?'25 May 2016':round(datum.value)==300?'8 Jul 2016':''"}},
"y": {"field":"l","type":"quantitative","scale":{"domain":[98.551,126.334],"nice":false,"zero":false},
"axis": {"title":null,"orient":"right","values":[100.195,101.86,103.525,105.19,106.855,108.52,110.185,111.85,113.515,115.18,116.845,118.51,120.175,121.84,123.505,125.17],"format":".3f",
"grid":true,"gridDash":[8,4],"gridColor":"#c6c6c6","gridWidth":1,"domainColor":"#000000","domainWidth":1.3,"ticks":true,"tickSize":4,"tickColor":"#000000",
"labelPadding":1,"labelFontSize":20,"labelFont":"Liberation Sans","labelColor":"#1a1a1a","labelOverlap":false,"labelFlush":false}},
"y2": {"field":"h"},
"color": {"condition":{"test":"datum.c>=datum.o","value":"#4f9f12"},"value":"#d9341d"}
}
},
{
"data": {"name":"candles"},
"mark": {"type":"bar","clip":true,"size":3.6,"strokeWidth":1},
"encoding": {
"x": {"field":"i","type":"quantitative"},
"y": {"field":"o","type":"quantitative"},
"y2": {"field":"c"},
"fill": {"condition":{"test":"datum.c>=datum.o","value":"#5cae16"},"value":"#f43c1f"},
"stroke": {"condition":{"test":"datum.c>=datum.o","value":"#438f0e"},"value":"#c9301b"}
}
},
{
"data": {"name":"upper"},
"mark": {"type":"line","clip":true,"strokeWidth":1,"color":"#3f9e8b"},
"encoding": {"x": {"field":"i","type":"quantitative"},"y": {"field":"v","type":"quantitative"}}
},
{
"data": {"name":"middle"},
"mark": {"type":"line","clip":true,"strokeWidth":1,"color":"#3f9e8b"},
"encoding": {"x": {"field":"i","type":"quantitative"},"y": {"field":"v","type":"quantitative"}}
},
{
"data": {"name":"lower"},
"mark": {"type":"line","clip":true,"strokeWidth":1,"color":"#3f9e8b"},
"encoding": {"x": {"field":"i","type":"quantitative"},"y": {"field":"v","type":"quantitative"}}
},
{
"data": {"name":"last"},
"mark": {"type":"rule","clip":true,"strokeWidth":1,"color":"#6b6b6b"},
"encoding": {"y": {"field":"p","type":"quantitative"}}
},
{
"data": {"name":"last"},
"mark": {"type":"rect","color":"#5c5c5c"},
"encoding": {
"x": {"datum":308.58,"type":"quantitative"},
"x2": {"datum":322.58},
"y": {"datum":100.424,"type":"quantitative"},
"y2": {"datum":100.882}
}
},
{
"data": {"name":"last"},
"mark": {"type":"text","align":"left","baseline":"middle","fontSize":20,"font":"Liberation Sans","color":"#ffffff"},
"encoding": {
"x": {"datum":309.13,"type":"quantitative"},
"y": {"field":"p","type":"quantitative"},
"text": {"field":"label"}
}
},
{
"data": {"name":"title"},
"mark": {"type":"text","align":"left","baseline":"alphabetic","fontSize":19,"font":"Liberation Sans","color":"#000000"},
"encoding": {
"x": {"datum":0.53,"type":"quantitative"},
"y": {"datum":125.849,"type":"quantitative"},
"text": {"field":"t"}
}
}
]
}
